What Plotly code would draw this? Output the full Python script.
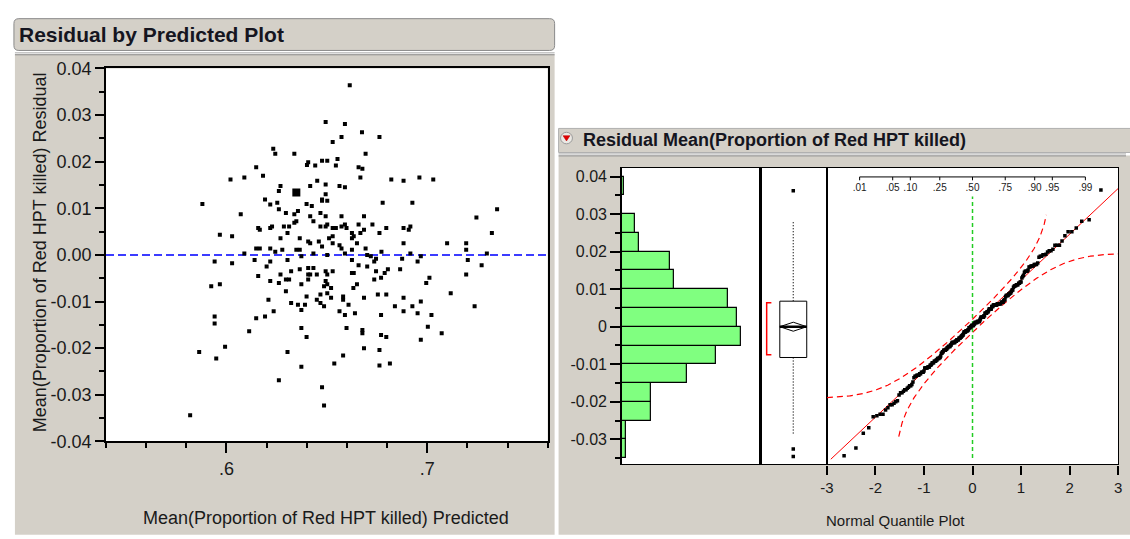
import numpy as np
import plotly.graph_objects as go
from statistics import NormalDist

W, H = 1130, 539
def px(x): return x / W
def py(y): return 1 - y / H

# ---------------- data ----------------
pred = [0.6614, 0.6494, 0.6590, 0.6675, 0.6762, 0.6573, 0.6529, 0.6233, 0.6243, 0.6338,
        0.6693, 0.6407, 0.6401, 0.6442, 0.6476, 0.6502, 0.6553, 0.6545, 0.6658, 0.6677,
        0.6148, 0.6182, 0.6020, 0.6089, 0.6667, 0.6821, 0.6882, 0.6961, 0.7030, 0.6269,
        0.6261, 0.6348, 0.6417, 0.6452, 0.6494, 0.6563, 0.6590, 0.6494, 0.6476, 0.6476,
        0.6502, 0.6192, 0.6218, 0.6253, 0.6778, 0.6926, 0.5880, 0.6399, 0.6425, 0.6261,
        0.6296, 0.6338, 0.6356, 0.6071, 0.6417, 0.6433, 0.6468, 0.6494, 0.6573, 0.6685,
        0.6338, 0.6348, 0.6286, 0.6312, 0.6158, 0.6166, 0.6218, 0.6227, 0.6468, 0.6494,
        0.6502, 0.6529, 0.6545, 0.6573, 0.6590, 0.6598, 0.6658, 0.6727, 0.6796, 0.6882,
        0.6908, 0.6916, 0.5967, 0.6028, 0.6269, 0.6304, 0.6365, 0.6407, 0.6417, 0.6460,
        0.6476, 0.6511, 0.6529, 0.6529, 0.6563, 0.6573, 0.6625, 0.6634, 0.6625, 0.6667,
        0.6685, 0.6650, 0.6762, 0.6882, 0.7099, 0.7194, 0.7194, 0.7245, 0.7348, 0.7322,
        0.6148, 0.6166, 0.6218, 0.6243, 0.6278, 0.6348, 0.6365, 0.6693, 0.6772, 0.6916,
        0.6089, 0.6433, 0.6502, 0.6590, 0.6625, 0.6701, 0.6719, 0.7297, 0.5941, 0.6028,
        0.6140, 0.6218, 0.6200, 0.6304, 0.6373, 0.6625, 0.6658, 0.6736, 0.6745, 0.6875,
        0.6952, 0.6968, 0.7202, 0.7271,
        0.6701, 0.6407, 0.6433, 0.6365, 0.6322, 0.6269, 0.6158, 0.6407, 0.6417, 0.6450,
        0.6494, 0.6502, 0.6529, 0.6625, 0.6634, 0.6745, 0.6788, 0.6804, 0.6865, 0.7194,
        0.6296, 0.6312, 0.6218, 0.6261, 0.6407, 0.6373, 0.6494, 0.6502, 0.6486, 0.6521,
        0.6650, 0.6632, 0.6736, 0.6770, 0.7011, 0.6995, 0.5924, 0.5967, 0.6296, 0.6399,
        0.6468, 0.6502, 0.6521, 0.6581, 0.6581, 0.6685, 0.6754, 0.6796, 0.7117, 0.6209,
        0.6322, 0.6356, 0.6391, 0.6450, 0.6468, 0.6486, 0.6373, 0.6608, 0.6882, 0.6968,
        0.6839, 0.6926, 0.7236, 0.6235, 0.6563, 0.6590, 0.6640, 0.6882, 0.6952, 0.6770,
        0.7021, 0.5941, 0.5941, 0.6148, 0.6192, 0.7003, 0.6113, 0.6373, 0.6598, 0.6677,
        0.6677, 0.6399, 0.6770, 0.6796, 0.7072, 0.6968, 0.5993, 0.5864, 0.5949, 0.6304,
        0.6685, 0.6762, 0.6581, 0.6537, 0.6373, 0.6762, 0.6814, 0.6261, 0.6476, 0.6486,
        0.5819]
resid = [0.0364, 0.0285, 0.0281, 0.0263, 0.0253, 0.0253, 0.0242, 0.0228, 0.0217, 0.0217,
         0.0217, 0.0199, 0.0193, 0.0192, 0.0202, 0.0202, 0.0206, 0.0192, 0.0188, 0.0185,
         0.0188, 0.0170, 0.0162, 0.0166, 0.0166, 0.0162, 0.0159, 0.0166, 0.0162, 0.0148,
         0.0137, 0.0134, 0.0148, 0.0159, 0.0151, 0.0148, 0.0145, 0.0130, 0.0119, 0.0116,
         0.0116, 0.0119, 0.0108, 0.0112, 0.0112, 0.0112, 0.0109, 0.0109, 0.0105, 0.0098,
         0.0090, 0.0087, 0.0094, 0.0087, 0.0083, 0.0072, 0.0090, 0.0083, 0.0083, 0.0083,
         0.0069, 0.0072, 0.0061, 0.0061, 0.0058, 0.0054, 0.0058, 0.0061, 0.0061, 0.0061,
         0.0065, 0.0058, 0.0058, 0.0061, 0.0065, 0.0058, 0.0065, 0.0065, 0.0058, 0.0058,
         0.0054, 0.0061, 0.0043, 0.0040, 0.0036, 0.0047, 0.0036, 0.0029, 0.0025, 0.0029,
         0.0018, 0.0036, 0.0040, 0.0025, 0.0021, 0.0014, 0.0047, 0.0040, 0.0036, 0.0047,
         0.0054, 0.0025, 0.0047, 0.0025, 0.0025, 0.0025, 0.0011, 0.0080, 0.0098, 0.0047,
         0.0014, 0.0014, 0.0014, 0.0007, 0.0011, 0.0011, 0.0011, 0.0014, 0.0007, 0.0003,
         0.0003, 0.0003, 0.0000, 0.0003, 0.0011, 0.0000, -0.0003, 0.0003, -0.0014, -0.0018,
         -0.0011, -0.0014, -0.0025, -0.0011, -0.0003, -0.0011, -0.0022, -0.0014, -0.0008, -0.0008,
         -0.0014, -0.0003, -0.0011, -0.0022,
         -0.0025, -0.0028, -0.0028, -0.0031, -0.0035, -0.0042, -0.0045, -0.0042, -0.0042, -0.0042,
         -0.0035, -0.0042, -0.0035, -0.0039, -0.0039, -0.0035, -0.0039, -0.0031, -0.0031, -0.0042,
         -0.0053, -0.0053, -0.0056, -0.0060, -0.0053, -0.0063, -0.0056, -0.0063, -0.0067, -0.0071,
         -0.0063, -0.0071, -0.0053, -0.0049, -0.0049, -0.0060, -0.0067, -0.0063, -0.0078, -0.0089,
         -0.0085, -0.0082, -0.0092, -0.0089, -0.0096, -0.0092, -0.0085, -0.0085, -0.0082, -0.0096,
         -0.0103, -0.0107, -0.0107, -0.0096, -0.0103, -0.0110, -0.0118, -0.0107, -0.0092, -0.0100,
         -0.0110, -0.0110, -0.0110, -0.0121, -0.0121, -0.0129, -0.0125, -0.0121, -0.0125, -0.0129,
         -0.0129, -0.0132, -0.0147, -0.0136, -0.0132, -0.0154, -0.0164, -0.0157, -0.0157, -0.0161,
         -0.0168, -0.0176, -0.0172, -0.0176, -0.0168, -0.0182, -0.0197, -0.0208, -0.0222, -0.0208,
         -0.0200, -0.0204, -0.0216, -0.0233, -0.0240, -0.0237, -0.0233, -0.0269, -0.0284, -0.0323,
         -0.0344]
big_pred = [0.6348]
big_resid = [0.0134]

pred_range = [0.54, 0.76]
resid_range = [-0.04, 0.04]
pred_tickvals = [0.6, 0.7]
pred_ticktext = [".6", ".7"]
resid_tickvals = [-0.04, -0.03, -0.02, -0.01, 0.0, 0.01, 0.02, 0.03, 0.04]
resid_ticktext = ["-0.04", "-0.03", "-0.02", "-0.01", "0.00", "0.01", "0.02", "0.03", "0.04"]

# histogram of residuals (bin starts, counts)
bin_starts = [-0.035, -0.030, -0.025, -0.020, -0.015, -0.010, -0.005, 0.000,
              0.005, 0.010, 0.015, 0.020, 0.025, 0.030, 0.035]
bin_counts = [2, 2, 14, 14, 31, 45, 57, 55, 51, 25, 23, 8, 6, 0, 1]
bin_width = 0.005
hist_tickvals = [-0.03, -0.02, -0.01, 0.0, 0.01, 0.02, 0.03, 0.04]
hist_ticktext = ["-0.03", "-0.02", "-0.01", "0", "0.01", "0.02", "0.03", "0.04"]
dist_range = [-0.0367, 0.0423]

# outlier box plot summary
box_q1, box_median, box_q3 = -0.0082, 0.0, 0.0068
whisker_lo, whisker_hi = -0.0288, 0.0283
box_outliers = [0.0362, -0.0326, -0.0346]
box_mean, mean_ci_half = 0.0, 0.0012
shortest_half = [-0.0075, 0.0064]

# normal quantile plot
quant_ticks = [-3, -2, -1, 0, 1, 2, 3]
prob_ticks = [0.01, 0.05, 0.10, 0.25, 0.50, 0.75, 0.90, 0.95, 0.99]
prob_labels = [".01", ".05", ".10", ".25", ".50", ".75", ".90", ".95", ".99"]

# ---------------- styling ----------------
FONT = "Liberation Sans, Arial, sans-serif"
GRAY = "#d4d0c8"
TXT = "#1a1a1a"

fig = go.Figure()

# ---- residual by predicted scatter ----
fig.add_trace(go.Scatter(x=pred_range, y=[0, 0], mode="lines",
                         line=dict(color="#3c3cff", width=2, dash="8px,4px"),
                         xaxis="x", yaxis="y", hoverinfo="skip"))
fig.add_trace(go.Scatter(x=pred, y=resid, mode="markers",
                         marker=dict(symbol="square", size=4, color="black"),
                         xaxis="x", yaxis="y"))
fig.add_trace(go.Scatter(x=big_pred, y=big_resid, mode="markers",
                         marker=dict(symbol="square", size=8, color="black"),
                         xaxis="x", yaxis="y"))

# ---- histogram ----
centers = [b + bin_width / 2 for b in bin_starts]
fig.add_trace(go.Bar(y=centers, x=bin_counts, orientation="h", width=bin_width,
                     marker=dict(color="#80ff80", line=dict(color="black", width=1.2)),
                     xaxis="x2", yaxis="y2"))
hist_xmax = max(bin_counts) * 139 / 120

# ---- box plot ----
bw = 0.4
fig.add_trace(go.Scatter(x=[0, 0], y=[box_q3, whisker_hi], mode="lines",
                         line=dict(color="black", width=1.2, dash="1px,2px"), xaxis="x3", yaxis="y3"))
fig.add_trace(go.Scatter(x=[0, 0], y=[box_q1, whisker_lo], mode="lines",
                         line=dict(color="black", width=1.2, dash="1px,2px"), xaxis="x3", yaxis="y3"))
fig.add_trace(go.Scatter(x=[-bw, bw, bw, -bw, -bw], y=[box_q1, box_q1, box_q3, box_q3, box_q1],
                         mode="lines", fill="toself", fillcolor="white",
                         line=dict(color="black", width=1), xaxis="x3", yaxis="y3"))
fig.add_trace(go.Scatter(x=[-bw, 0, bw, 0, -bw],
                         y=[box_mean, box_mean + mean_ci_half, box_mean, box_mean - mean_ci_half, box_mean],
                         mode="lines", line=dict(color="black", width=1), xaxis="x3", yaxis="y3"))
fig.add_trace(go.Scatter(x=[-bw, bw], y=[box_median, box_median], mode="lines",
                         line=dict(color="black", width=2.5), xaxis="x3", yaxis="y3"))
fig.add_trace(go.Scatter(x=[0] * len(box_outliers), y=box_outliers, mode="markers",
                         marker=dict(symbol="square", size=3.5, color="black"), xaxis="x3", yaxis="y3"))
fig.add_trace(go.Scatter(x=[-0.65, -0.79, -0.79, -0.65],
                         y=[shortest_half[0], shortest_half[0], shortest_half[1], shortest_half[1]],
                         mode="lines", line=dict(color="red", width=1.5), xaxis="x3", yaxis="y3"))

# ---- normal quantile plot ----
nd = NormalDist()
r = np.sort(np.array(resid))
n = len(r)
z = np.array([nd.inv_cdf(i / (n + 1)) for i in range(1, n + 1)])
mu = float(np.mean(r))
sd = float(np.std(r, ddof=1))
d = 0.886 / np.sqrt(n)

zg = np.linspace(-3, 3, 601)
pg = np.array([nd.cdf(v) for v in zg])
up = [mu + sd * nd.inv_cdf(p + d) if p + d < 0.99999 else None for p in pg]
lo = [mu + sd * nd.inv_cdf(p - d) if p - d > 0.00001 else None for p in pg]
lim = 0.0298
up = [v if (v is not None and abs(v) <= lim) else None for v in up]
lo = [v if (v is not None and abs(v) <= lim) else None for v in lo]
fig.add_trace(go.Scatter(x=zg, y=up, mode="lines", connectgaps=False,
                         line=dict(color="red", width=1.2, dash="6px,4px"), xaxis="x4", yaxis="y4"))
fig.add_trace(go.Scatter(x=zg, y=lo, mode="lines", connectgaps=False,
                         line=dict(color="red", width=1.2, dash="6px,4px"), xaxis="x4", yaxis="y4"))
zl = np.array([-2.92, 3.0])
fig.add_trace(go.Scatter(x=zl, y=mu + sd * zl, mode="lines",
                         line=dict(color="red", width=1), xaxis="x4", yaxis="y4"))
fig.add_trace(go.Scatter(x=[0, 0], y=[-0.035, 0.0347], mode="lines",
                         line=dict(color="#22cc22", width=1.5, dash="4px,3px"), xaxis="x4", yaxis="y4"))
fig.add_trace(go.Scatter(x=z, y=r, mode="markers",
                         marker=dict(symbol="square", size=3.5, color="black"), xaxis="x4", yaxis="y4"))

# probability scale at top of the quantile plot
pz = [nd.inv_cdf(p) for p in prob_ticks]
axis_y = 0.0399
tx, ty = [pz[0], pz[-1]], [axis_y, axis_y]
for v in pz:
    tx += [None, v, v]
    ty += [None, axis_y, axis_y - 0.0009]
fig.add_trace(go.Scatter(x=tx, y=ty, mode="lines", line=dict(color="black", width=1),
                         xaxis="x4", yaxis="y4", connectgaps=False))
fig.add_trace(go.Scatter(x=pz, y=[0.0367] * len(pz), mode="text", text=prob_labels,
                         textfont=dict(family=FONT, size=10, color=TXT),
                         xaxis="x4", yaxis="y4"))

# ---------------- layout ----------------
def ax(**kw):
    base = dict(showgrid=False, zeroline=False, showline=True, linecolor="black",
                mirror=True, ticks="", showticklabels=False, fixedrange=True)
    base.update(kw)
    return base

tickfont = dict(family=FONT, size=18, color=TXT)
tickfont_r = dict(family=FONT, size=16, color=TXT)

layout = dict(
    width=W, height=H, margin=dict(l=0, r=0, t=0, b=0),
    paper_bgcolor="white", plot_bgcolor="white", showlegend=False,
    xaxis=ax(domain=[px(100), px(546)], anchor="y", range=pred_range, linewidth=2,
             ticks="outside", ticklen=10, tickwidth=1.5, tickcolor="black",
             tickvals=pred_tickvals, ticktext=pred_ticktext, showticklabels=True,
             tickfont=tickfont,
             minor=dict(tickvals=list(np.round(np.arange(0.54, 0.7601, 0.02), 3)),
                        ticks="outside", ticklen=5, tickwidth=1.5, tickcolor="black")),
    yaxis=ax(domain=[py(448), py(60.7)], anchor="x", range=resid_range, linewidth=2,
             ticks="outside", ticklen=9, tickwidth=1.5, tickcolor="black",
             tickvals=resid_tickvals, ticktext=resid_ticktext, showticklabels=True,
             tickfont=tickfont,
             minor=dict(tickvals=list(np.round(np.arange(-0.04, 0.0401, 0.005), 4)),
                        ticks="outside", ticklen=5, tickwidth=1.5, tickcolor="black")),
    xaxis2=ax(domain=[px(621), px(760)], anchor="y2", range=[0, hist_xmax], linewidth=1.2),
    yaxis2=ax(domain=[py(472), py(164)], anchor="x2", range=dist_range, linewidth=1.5,
              ticks="outside", ticklen=10, tickwidth=1.5, tickcolor="black",
              tickvals=hist_tickvals, ticktext=hist_ticktext, showticklabels=True,
              tickfont=tickfont_r,
              minor=dict(tickvals=list(np.round(np.arange(-0.035, 0.0401, 0.005), 4)),
                         ticks="outside", ticklen=5, tickwidth=1.5, tickcolor="black")),
    xaxis3=ax(domain=[px(760), px(828)], anchor="y3", range=[-1, 1], linewidth=1.2),
    yaxis3=ax(domain=[py(472), py(164)], anchor="x3", range=dist_range, linewidth=1.2),
    xaxis4=ax(domain=[px(828), px(1122)], anchor="y4", range=[-3, 3], linewidth=1.2,
              ticks="outside", ticklen=9, tickwidth=1.5, tickcolor="black",
              tickvals=quant_ticks, ticktext=[str(v) if v >= 0 else "-" + str(-v) for v in quant_ticks],
              showticklabels=True, tickfont=dict(family=FONT, size=15, color=TXT)),
    yaxis4=ax(domain=[py(472), py(164)], anchor="x4", range=dist_range, linewidth=1.2),
)

def rect(x0, y0, x1, y1, fill, line=None, lw=0):
    return dict(type="rect", xref="paper", yref="paper", x0=px(x0), x1=px(x1),
                y0=py(y1), y1=py(y0), fillcolor=fill, layer="below",
                line=dict(color=line or fill, width=lw))

def rrect(x0, y0, x1, y1, rr, fill, line):
    p = (f"M {px(x0+rr)},{py(y0)} L {px(x1-rr)},{py(y0)} Q {px(x1)},{py(y0)} {px(x1)},{py(y0+rr)} "
         f"L {px(x1)},{py(y1-rr)} Q {px(x1)},{py(y1)} {px(x1-rr)},{py(y1)} "
         f"L {px(x0+rr)},{py(y1)} Q {px(x0)},{py(y1)} {px(x0)},{py(y1-rr)} "
         f"L {px(x0)},{py(y0+rr)} Q {px(x0)},{py(y0)} {px(x0+rr)},{py(y0)} Z")
    return dict(type="path", xref="paper", yref="paper", path=p, fillcolor=fill,
                layer="below", line=dict(color=line, width=1))

def hline(x0, x1, y, color, w=1):
    return dict(type="line", xref="paper", yref="paper", x0=px(x0), x1=px(x1),
                y0=py(y), y1=py(y), layer="below", line=dict(color=color, width=w))

shapes = [
    rect(8, 46, 553, 545, GRAY),
    rrect(7, 9, 553, 42, 5, GRAY, "#8a8a8a"),
    hline(8, 553, 44.5, "#a8a8a8"),
    hline(8, 553, 46.5, "#8a8a8a"),
    rect(557, 151, 1135, 545, GRAY),
    rect(557, 123, 1135, 148, GRAY, "#b0b0b0", 1),
    hline(557, 1130, 149.5, "#a8a8a8"),
    hline(557, 1130, 151.5, "#8a8a8a"),
    # plot backgrounds
    rect(100, 60.7, 546, 448, "white"),
    rect(621, 164, 1122, 472, "white"),
    # menu button
    dict(type="circle", xref="paper", yref="paper", x0=px(559), x1=px(571), y0=py(139), y1=py(127),
         fillcolor="#ebe9e4", line=dict(color="#9a9a9a", width=1), layer="below"),
    dict(type="path", xref="paper", yref="paper",
         path=f"M {px(561.5)},{py(130.5)} L {px(568.5)},{py(130.5)} L {px(565)},{py(136)} Z",
         fillcolor="#e00000", line=dict(color="#c00000", width=0.5), layer="above"),
]

annotations = [
    dict(text="Residual by Predicted Plot", x=px(10), y=py(25.5), xref="paper", yref="paper",
         xanchor="left", yanchor="middle", showarrow=False,
         font=dict(family=FONT, size=21, color="#151520", weight="bold")),
    dict(text="Residual Mean(Proportion of Red HPT killed)", x=px(580), y=py(135.5), xref="paper",
         yref="paper", xanchor="left", yanchor="middle", showarrow=False,
         font=dict(family=FONT, size=18, color="#151520", weight="bold")),
    dict(text="Mean(Proportion of Red HPT killed) Residual", x=px(33), y=py(252), xref="paper",
         yref="paper", xanchor="center", yanchor="middle", showarrow=False, textangle=-90,
         font=dict(family=FONT, size=18, color=TXT)),
    dict(text="Mean(Proportion of Red HPT killed) Predicted", x=px(322), y=py(528), xref="paper",
         yref="paper", xanchor="center", yanchor="middle", showarrow=False,
         font=dict(family=FONT, size=18, color=TXT)),
    dict(text="Normal Quantile Plot", x=px(825), y=py(530), xref="paper", yref="paper",
         xanchor="left", yanchor="middle", showarrow=False,
         font=dict(family=FONT, size=15, color=TXT)),
]

fig.update_layout(**layout, shapes=shapes, annotations=annotations, bargap=0)
fig.write_html("out.html", config={"displayModeBar": False},
               post_script="document.body.style.margin='0';document.body.style.overflow='hidden';")
